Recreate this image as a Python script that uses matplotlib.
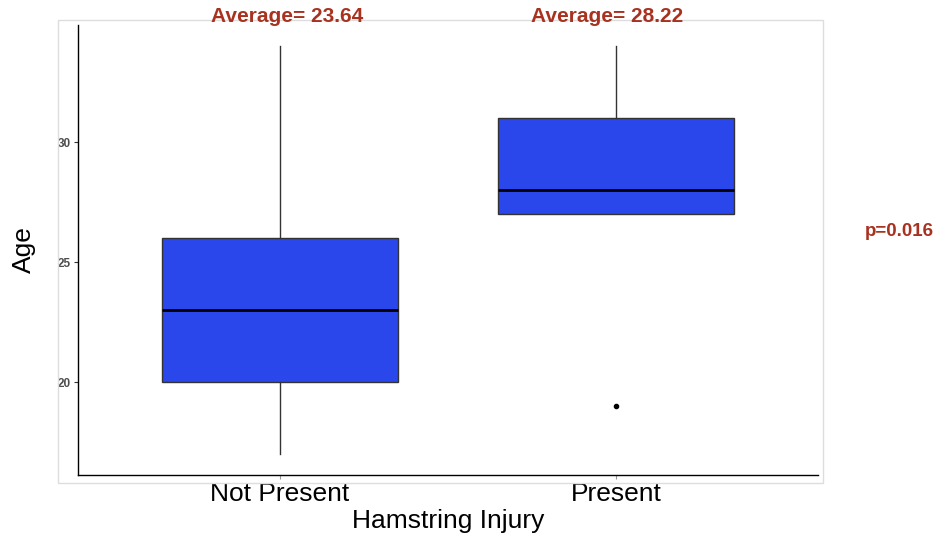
import matplotlib.pyplot as plt
from matplotlib.patches import Rectangle

plt.rcParams['font.family'] = ['Liberation Sans', 'DejaVu Sans']

groups = ["Not Present", "Present"]
whisker_low = [17, 27]
q1 = [20, 27]
median = [23, 28]
q3 = [26, 31]
whisker_high = [34, 34]
outliers = [[], [19]]
averages = [23.64, 28.22]
p_value = "p=0.016"

stats = []
for i, g in enumerate(groups):
    stats.append({
        "label": g,
        "whislo": whisker_low[i],
        "q1": q1[i],
        "med": median[i],
        "q3": q3[i],
        "whishi": whisker_high[i],
        "fliers": outliers[i],
    })

fig = plt.figure(figsize=(9.39, 5.43), dpi=100)
ax = fig.add_axes([78 / 939, 68 / 543, 740 / 939, 450 / 543])

# light frame around the plot panel (screenshot border)
fig.patches.append(Rectangle((58 / 939, 60 / 543), 765 / 939, 463 / 543,
                             transform=fig.transFigure, fill=False,
                             edgecolor="#dddddd", linewidth=1))

ax.bxp(stats, positions=[1, 2], widths=0.7, patch_artist=True,
       showcaps=False,
       boxprops=dict(facecolor="#2947EB", edgecolor="#333333", linewidth=1),
       medianprops=dict(color="black", linewidth=2),
       whiskerprops=dict(color="#333333", linewidth=1),
       flierprops=dict(marker="o", markerfacecolor="black",
                       markeredgecolor="black", markersize=3))

ax.set_xlim(0.4, 2.6)
ax.set_ylim(16.125, 34.875)
ax.set_yticks([20, 25, 30])
ax.set_xticks([1, 2])
ax.set_xticklabels(groups, fontsize=19)
ax.tick_params(axis="y", labelsize=8.5, labelcolor="#4d4d4d", length=3,
               color="#333333", pad=2)
for lbl in ax.get_yticklabels():
    lbl.set_fontweight("bold")
ax.tick_params(axis="x", length=3, color="#999999", pad=2)

for s in ["top", "right"]:
    ax.spines[s].set_visible(False)
for s in ["left", "bottom"]:
    ax.spines[s].set_color("black")
    ax.spines[s].set_linewidth(1)

ax.set_xlabel("Hamstring Injury", fontsize=19, labelpad=2)
ax.set_ylabel("Age", fontsize=19, labelpad=16)

red = "#A8321F"
for i, avg in enumerate(averages):
    x_fig = [287, 607][i] / 939
    fig.text(x_fig, 1 - 17 / 543, f"Average= {avg:.2f}", color=red,
             fontsize=15, fontweight="bold", ha="center", va="center")
fig.text(899 / 939, 1 - 231 / 543, p_value, color=red, fontsize=13.5,
         fontweight="bold", ha="center", va="center")

fig.savefig("out.png", dpi=100)
